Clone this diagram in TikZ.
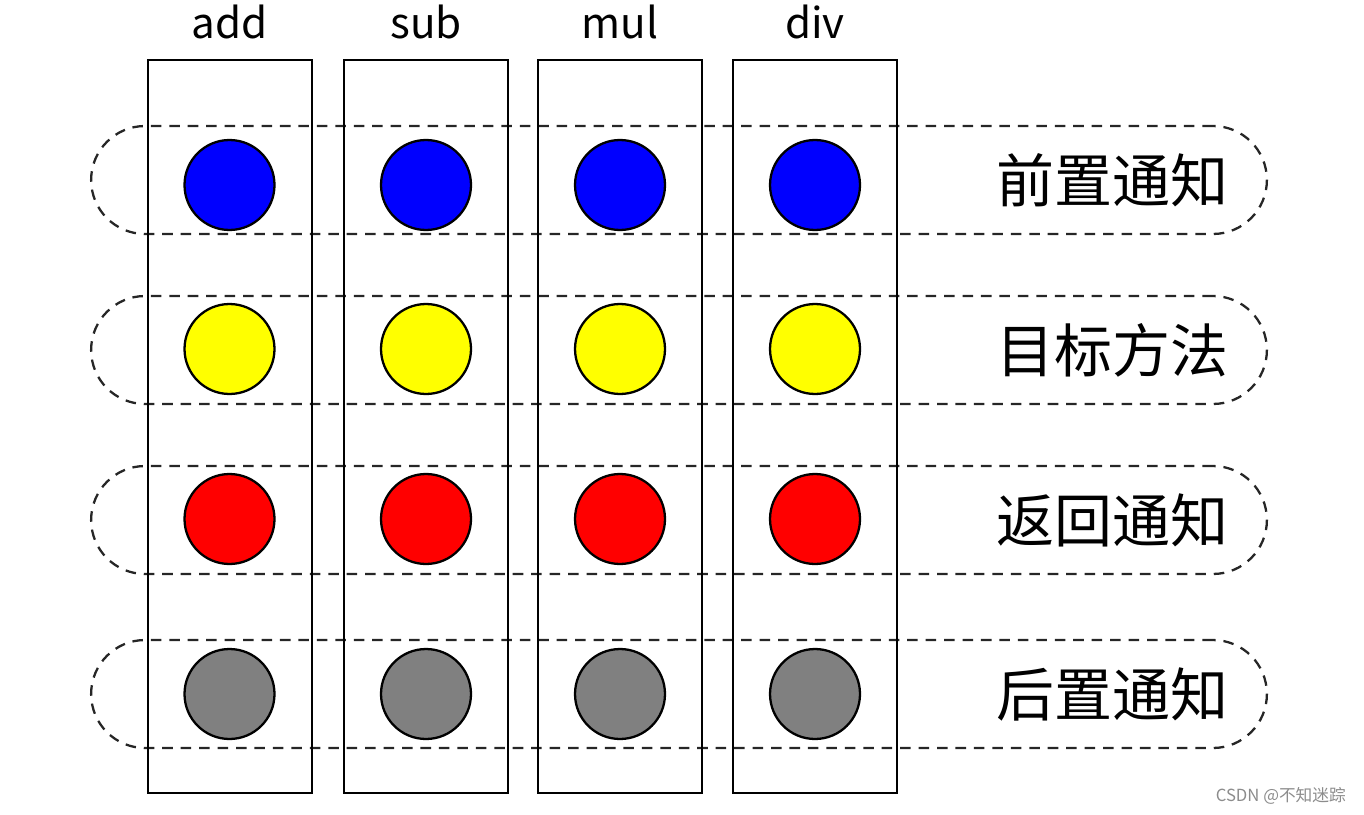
\documentclass[tikz,border=0pt]{standalone}
\usepackage{fontspec}
\setmainfont{Noto Sans CJK SC}
\usetikzlibrary{positioning}
\definecolor{dotyellow}{RGB}{255, 255, 0}

\begin{document}
\begin{tikzpicture}[
      x=0.02cm, y=-0.02cm,
      col/.style={rectangle, draw, line width=1.3pt, minimum width=3.28cm,
                  minimum height=14.66cm},
      dot/.style={circle, draw, line width=1.3pt, minimum size=1.8cm, inner sep=0pt},
      band/.style={rectangle, draw=black!85, line width=1.3pt, rounded corners=1.08cm,
                   dash pattern=on 6pt off 4.5pt, minimum width=23.52cm,
                   minimum height=2.16cm},
      head/.style={font=\fontsize{24}{28}\selectfont},
      tag/.style={font=\fontsize{33}{38}\selectfont, inner sep=0pt}
  ]
  \useasboundingbox (0,0) rectangle (1364,814);

  % the four advice rows
  \node[band] (pre)  at (679,180) {};
  \node[band] (tgt)  at (679,350) {};
  \node[band] (ret)  at (679,520) {};
  \node[band] (post) at (679,694) {};

  \node[tag, left=0.78cm of pre.east]  (pretag)  {前置通知};
  \node[tag, left=0.78cm of tgt.east]  (tgttag)  {目标方法};
  \node[tag, left=0.78cm of ret.east]  (rettag)  {返回通知};
  \node[tag, left=0.78cm of post.east] (posttag) {后置通知};

  % the four methods
  \node[col] (add) at (230,426.5) {};
  \node[col] (sub) at (426,426.5) {};
  \node[col] (mul) at (620,426.5) {};
  \node[col] (div) at (815,426.5) {};

  \node[head] (addhead) at (230,22) {add};
  \node[head] (subhead) at (426,22) {sub};
  \node[head] (mulhead) at (620,22) {mul};
  \node[head] (divhead) at (815,22) {div};

  % join points
  \foreach \m/\x in {add/229.5, sub/426, mul/620, div/815} {
    \node[dot, fill=blue]      (\m-pre)  at (\x,185) {};
    \node[dot, fill=dotyellow] (\m-tgt)  at (\x,349) {};
    \node[dot, fill=red]       (\m-ret)  at (\x,519) {};
    \node[dot, fill=gray]      (\m-post) at (\x,694) {};
  }

  \node[font=\fontsize{9.5}{11}\selectfont, text=black!45, anchor=east] (mark)
        at (1352,796) {CSDN @不知迷踪};
\end{tikzpicture}
\end{document}
